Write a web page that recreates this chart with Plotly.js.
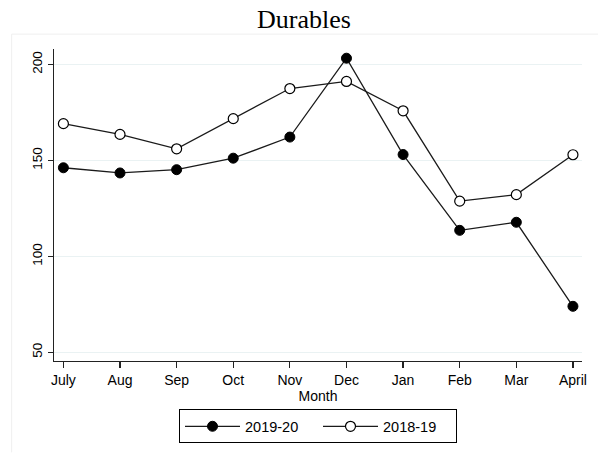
<!DOCTYPE html>
<html>
<head>
<meta charset="utf-8">
<script src="https://cdn.plot.ly/plotly-3.0.1.min.js"></script>
<style>html,body{margin:0;padding:0;background:#fff;}#chart{width:598px;height:455px;}</style>
</head>
<body>
<div id="chart"></div>
<script>
const months = ["July","Aug","Sep","Oct","Nov","Dec","Jan","Feb","Mar","April"];
const durables2019_20 = [146.2, 143.5, 145.2, 151.2, 162.2, 203.3, 153.1, 113.6, 117.8, 74.0];
const durables2018_19 = [169.2, 163.6, 156.1, 171.8, 187.5, 191.2, 175.9, 128.8, 132.2, 153.0];
const yTicks = [50, 100, 150, 200];

const lineColor = "#1a1a1a";
const traces = [
  {
    x: months, y: durables2019_20, name: "2019-20", type: "scatter", mode: "lines+markers",
    line: {color: lineColor, width: 1.3},
    marker: {symbol: "circle", size: 10, color: "#000", line: {color: "#000", width: 1}}
  },
  {
    x: months, y: durables2018_19, name: "2018-19", type: "scatter", mode: "lines+markers",
    line: {color: lineColor, width: 1.3},
    marker: {symbol: "circle", size: 10, color: "#fff", line: {color: "#000", width: 1.2}}
  }
];

const layout = {
  width: 598, height: 455,
  margin: {l: 54.3, r: 16.3, t: 49, b: 92},
  paper_bgcolor: "#fff", plot_bgcolor: "#fff",
  font: {family: "Liberation Sans, Arial, sans-serif", color: "#000"},
  title: {
    text: "Durables",
    font: {family: "Liberation Serif, Times New Roman, serif", size: 26, color: "#000"},
    xref: "container", x: 304/598, xanchor: "center",
    yref: "container", y: 1 - 19/455, yanchor: "middle"
  },
  showlegend: true,
  legend: {
    orientation: "h", xref: "paper", x: 0.5, xanchor: "center",
    yref: "paper", y: -0.155, yanchor: "top",
    bordercolor: "#000", borderwidth: 1, bgcolor: "#fff",
    itemwidth: 55, entrywidth: 68, entrywidthmode: "pixels",
    font: {size: 14.5, color: "#000"}
  },
  xaxis: {
    type: "category", categoryarray: months,
    range: [-0.166, 9.16],
    showgrid: false, zeroline: false,
    showline: true, linecolor: "#222", linewidth: 1.2,
    ticks: "outside", ticklen: 6, tickwidth: 1.2, tickcolor: "#222",
    tickfont: {size: 14, color: "#000"},
    title: {text: "Month", font: {size: 14, color: "#000"}, standoff: 0}
  },
  yaxis: {
    range: [45.5, 208.1],
    tickvals: yTicks, ticktext: yTicks.map(String),
    tickangle: -90,
    showgrid: true, gridcolor: "#eaf2f3", gridwidth: 1.2,
    zeroline: false,
    showline: true, linecolor: "#222", linewidth: 1.2,
    ticks: "outside", ticklen: 5, tickwidth: 1.2, tickcolor: "#222",
    tickfont: {size: 13.5, color: "#000"}
  },
  shapes: [
    {type: "line", xref: "paper", yref: "paper",
     x0: (12-54.3)/527.4, x1: (598-54.3)/527.4, y0: (363-34)/314, y1: (363-34)/314,
     line: {color: "#efefef", width: 1}},
    {type: "line", xref: "paper", yref: "paper",
     x0: (12-54.3)/527.4, x1: (12-54.3)/527.4, y0: (363-34)/314, y1: (363-455)/314,
     line: {color: "#efefef", width: 1}}
  ]
};

Plotly.newPlot("chart", traces, layout, {displayModeBar: false, staticPlot: true});
</script>
</body>
</html>
